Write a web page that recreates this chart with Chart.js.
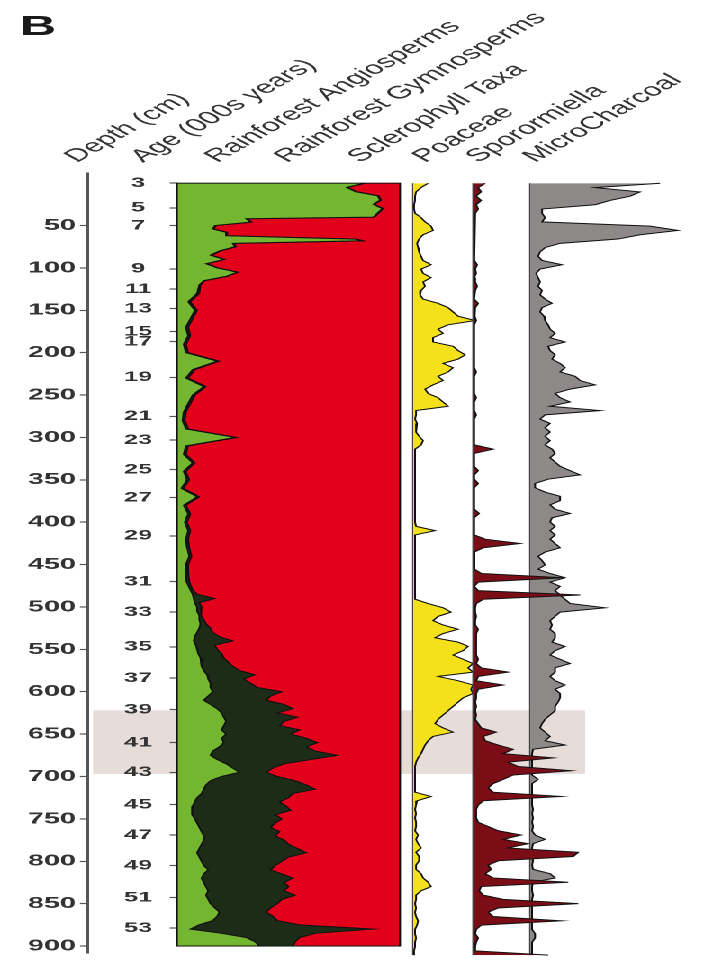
<!DOCTYPE html>
<html>
<head>
<meta charset="utf-8">
<title>Pollen diagram B</title>
<script src="https://cdn.jsdelivr.net/npm/chart.js@4.4.1/dist/chart.umd.min.js"></script>
<style>
    html, body { margin: 0; padding: 0; background: #fff; }
    /* the figure is drawn narrow and stretched sideways, like the original plate */
    #figure { position: absolute; left: 0; top: 0; width: 391px; height: 971px; transform: scaleX(1.8005); transform-origin: 0 0; }
    #figure canvas { position: absolute; left: 0; top: 0; }
</style>
</head>
<body>
<div id="figure">
    <canvas id="main" width="391" height="971"></canvas>
    <canvas id="poaceae" width="391" height="971"></canvas>
    <canvas id="charcoal" width="391" height="971"></canvas>
    <canvas id="sporormiella" width="391" height="971"></canvas>
</div>
<script>
// Column titles
const columnTitles = ['Depth (cm)', 'Age (000s years)', 'Rainforest Angiosperms', 'Rainforest Gymnosperms',
    'Sclerophyll Taxa', 'Poaceae', 'Sporormiella', 'MicroCharcoal'];

// Depth axis (cm) and age axis (000s years) tick labels
const depthTicks = [50, 100, 150, 200, 250, 300, 350, 400, 450, 500, 550, 600, 650, 700, 750, 800, 850, 900];
const ageLabels = ['3', '5', '7', '9', '11', '13', '15', '17', '19', '21', '23', '25', '27', '29', '31', '33',
    '35', '37', '39', '41', '43', '45', '47', '49', '51', '53'];
const ageDepths = [0, 29, 50, 101, 125, 148, 175, 187, 229, 275, 303, 338, 371, 416, 470, 506,
    547, 584, 621, 660, 695, 733, 769, 805, 843, 879];

// Shaded interval (cm)
const shadedDepths = [622, 697];

// Pollen sum panel (%), sampled at these depths
const mainDepths = [
    0, 5, 10, 15, 20, 25, 30, 35, 40,
    42, 46, 50, 54, 58, 62, 66, 68, 71, 75,
    80, 85, 90, 95, 100, 105, 110, 115, 120,
    130, 140, 150, 160, 170, 180, 190, 200, 210, 220, 230, 240, 250, 260, 270, 280, 290, 300, 310, 320,
    330, 340, 350, 360, 370, 380, 390, 400, 410, 420, 430, 440, 450, 460, 470, 480,
    485, 490, 495, 500, 505, 510, 515, 520, 525, 530, 535, 540, 545, 550, 555, 560, 565, 570, 575, 580, 585, 590, 595,
    600, 605, 610, 615, 620, 625, 630, 635, 640, 645, 650, 655, 660, 665, 670, 675, 680, 685, 690, 695,
    700, 705, 710, 715, 720, 725, 730, 735, 740, 745, 750, 755, 760, 765, 770, 775, 780, 785, 790, 795,
    800, 805, 810, 815, 820, 825, 830, 835, 840, 845, 850, 855, 860, 865, 870, 875, 880, 885, 890, 895,
    900
];
const angiosperms = [
    84, 76, 80, 90, 91, 88, 92, 90, 88,
    31, 33, 17, 16, 22, 22, 80, 83, 25, 26,
    19, 15, 21, 13, 18, 27, 22, 12, 10,
    9, 5, 8, 6, 4, 5, 3, 4, 18, 7, 4, 12, 7, 5, 3, 2.5, 4, 26, 4, 3,
    7, 3, 4.5, 2, 9, 3, 5, 3.5, 5, 4, 4.5, 5.5, 4, 4, 4.5, 6,
    7, 7.5, 8, 9, 9, 10, 10, 10.5, 10, 9, 8, 7.5, 8.5, 9, 9.5, 10.5, 11, 11, 12, 13.5, 14, 15, 15,
    16, 14, 12, 15, 18, 20, 21, 22, 21, 20, 22, 20, 21, 19, 16, 15, 18, 22, 25, 28,
    20, 15, 13, 12, 11, 9, 8, 7, 6.5, 7, 8, 9, 10, 11, 12, 12, 11, 10, 9, 10,
    11, 12, 14, 12, 11, 12, 13, 14, 13, 14, 15, 17, 19, 18, 16, 10, 6, 20, 31, 35,
    37
];
const gymnosperms = [
    0.5, 0.5, 0.5, 0.5, 0.5, 0.5, 0.5, 0.5, 0.5,
    0.5, 0.5, 0.5, 0.5, 0.5, 0.5, 0.5, 0.5, 0.5, 0.5,
    0.5, 0.5, 0.5, 0.5, 0.5, 0.5, 0.5, 0.5, 0.5,
    1, 1, 1, 1, 1, 1, 1, 1, 1, 1, 1, 1, 1, 1, 1, 1, 1, 1, 1, 1,
    1, 1, 1, 1, 1, 1, 1, 1, 1, 1, 1, 1, 1, 1, 1, 1,
    2, 9.5, 2, 2, 1.5, 1, 2, 2.5, 5, 7, 11, 17.5, 8.5, 9, 10.5, 10.5, 12, 14, 16, 21.5, 16, 18, 21,
    31, 28, 28, 33, 34, 25, 33, 26, 25, 35, 29, 38, 42, 39, 46, 57, 42, 26, 18, 12,
    25, 38, 45, 50, 41, 41, 38, 42, 44.5, 37, 39, 35, 32, 35, 32, 36, 39, 44, 49, 40,
    36, 32, 28, 35, 41, 36, 37, 34, 40, 33, 30, 25, 21, 25, 29, 45, 82, 42, 24, 18,
    15
];
const sclerophyll = [
    15.5, 23.5, 19.5, 9.5, 8.5, 11.5, 7.5, 9.5, 11.5,
    68.5, 66.5, 82.5, 83.5, 77.5, 77.5, 19.5, 16.5, 74.5, 73.5,
    80.5, 84.5, 78.5, 86.5, 81.5, 72.5, 77.5, 87.5, 89.5,
    90, 94, 91, 93, 95, 94, 96, 95, 81, 92, 95, 87, 92, 94, 96, 96.5, 95, 73, 95, 96,
    92, 96, 94.5, 97, 90, 96, 94, 95.5, 94, 95, 94.5, 93.5, 95, 95, 94.5, 93,
    91, 83, 90, 89, 89.5, 89, 88, 87, 85, 84, 81, 75, 83, 82, 80, 79, 77, 75, 72, 65, 70, 67, 64,
    53, 58, 60, 52, 48, 55, 46, 52, 54, 45, 49, 42, 37, 42, 38, 28, 40, 52, 57, 60,
    55, 47, 42, 38, 48, 50, 54, 51, 49, 56, 53, 56, 58, 54, 56, 52, 50, 46, 42, 50,
    53, 56, 58, 53, 48, 52, 50, 52, 47, 53, 55, 58, 60, 57, 55, 45, 12, 38, 45, 47,
    48
];

// Single-taxon panels, one sample every 5 cm from 0 to 900 cm
const sampleDepths = Array.from({ length: 181 }, function (_, i) { return i * 5; });
const poaceae = [
    15, 8, 3, 2, 2, 1, 1, 2, 8, 12,
    18, 20, 10, 6, 4, 5, 6, 8, 10, 18,
    8, 10, 18, 10, 12, 8, 7, 10, 25, 35,
    40, 45, 62, 35, 25, 30, 20, 20, 40, 45,
    52, 45, 30, 40, 35, 25, 30, 20, 12, 15,
    25, 30, 35, 3, 3, 2, 4, 3, 3, 6,
    10, 8, 2, 2, 2, 2, 2, 2, 2, 2,
    2, 2, 2, 2, 2, 2, 2, 2, 2, 2,
    3, 22, 2, 2, 2, 2, 2, 2, 2, 2,
    2, 2, 2, 2, 2, 2, 2, 2, 15, 30,
    38, 25, 20, 30, 45, 30, 22, 45, 55, 50,
    40, 50, 60, 55, 60, 25, 45, 60, 58, 60,
    50, 45, 40, 35, 30, 25, 22, 30, 40, 20,
    15, 12, 10, 8, 5, 3, 2, 2, 2, 2,
    2, 2, 2, 18, 4, 3, 2, 3, 2, 3,
    3, 2, 5, 3, 5, 8, 3, 6, 6, 3,
    3, 8, 10, 15, 18, 8, 3, 3, 2, 3,
    2, 3, 5, 4, 2, 2, 3, 2, 2, 1,
    1
];
const sporormiella = [
    12, 5, 8, 3, 8, 3, 5, 2, 1, 1,
    1, 1, 1, 1, 1, 1, 1, 1, 2, 4,
    2, 3, 1, 2, 4, 2, 1, 1, 5, 2,
    2, 1, 3, 1, 1, 1, 1, 1, 1, 1,
    1, 1, 1, 1, 3, 1, 1, 1, 1, 1,
    3, 1, 1, 1, 3, 1, 1, 1, 1, 1,
    1, 1, 20, 1, 1, 1, 1, 5, 1, 1,
    5, 1, 1, 1, 1, 1, 1, 6, 1, 1,
    1, 1, 1, 12, 47, 10, 1, 1, 1, 1,
    2, 8, 90, 5, 1, 5, 107, 10, 3, 2,
    2, 3, 2, 2, 5, 3, 3, 3, 3, 3,
    3, 5, 3, 8, 35, 5, 3, 30, 5, 3,
    3, 2, 3, 2, 3, 2, 5, 8, 23, 10,
    12, 25, 40, 30, 80, 35, 45, 98, 40, 30,
    20, 15, 20, 88, 10, 5, 3, 3, 3, 5,
    15, 25, 48, 30, 55, 35, 105, 100, 25, 15,
    18, 12, 20, 95, 8, 6, 10, 30, 105, 25,
    15, 20, 88, 8, 3, 2, 5, 3, 2, 2,
    75
];
const microCharcoal = [
    130, 65, 110, 100, 80, 65, 12, 12, 15, 12,
    120, 148, 110, 88, 30, 15, 10, 8, 12, 32,
    10, 6, 8, 10, 8, 12, 10, 15, 22, 12,
    10, 14, 15, 18, 20, 25, 20, 35, 18, 20,
    25, 22, 30, 35, 30, 45, 50, 65, 40, 25,
    30, 40, 20, 70, 15, 10, 20, 15, 20, 15,
    20, 15, 22, 25, 20, 25, 30, 40, 50, 18,
    5, 5, 15, 30, 30, 20, 25, 40, 22, 20,
    25, 20, 25, 20, 25, 30, 15, 8, 12, 15,
    8, 20, 35, 20, 30, 25, 30, 35, 40, 75,
    30, 25, 20, 22, 20, 25, 25, 22, 35, 25,
    20, 30, 40, 25, 25, 20, 25, 35, 25, 30,
    30, 28, 25, 25, 20, 15, 12, 10, 15, 20,
    15, 35, 3, 2, 2, 2, 2, 2, 2, 8,
    2, 2, 2, 2, 2, 2, 3, 2, 3, 2,
    3, 2, 5, 15, 3, 2, 3, 2, 3, 2,
    3, 20, 25, 3, 2, 2, 3, 2, 2, 2,
    2, 2, 2, 2, 2, 5, 5, 2, 2, 2,
    2
];

(function () {
    'use strict';

    const FIG_W = 391;
    const FIG_H = 971;

    // Layout in unstretched pixels
    const plotTop = 173;        // top of depth axis line
    const plotBottom = 962;     // bottom of depth axis line
    const depthMin = -12;
    const depthMax = 908;
    const depthAxisX = 48.9;
    const panelLeft = 98.3;
    const panelRight = 222.2;
    const band = { left: 51.7, right: 325, color: '#e6ddd8' };
    const titleBaseline = 163;
    const titleX = [42.8, 79.4, 120.6, 159.4, 200, 236, 265.6, 297.2];

    const colors = {
        angio: '#74b62f',
        gymno: '#1d2c16',
        sclero: '#e2001b',
        poaceae: '#f4e11a',
        sporormiella: '#7b0d17',
        charcoal: '#8d8989',
        text: '#333333',
        axis: '#555555'
    };

    Chart.defaults.font.family = '"Liberation Sans", Arial, sans-serif';

    function areaSeries(label, depths, values, fillColor, fill) {
        return {
            label: label,
            data: depths.map(function (d, i) { return { x: values[i], y: d }; }),
            backgroundColor: fillColor,
            borderColor: '#111111',
            borderWidth: 1,
            pointRadius: 0,
            tension: 0,
            fill: fill
        };
    }

    function hiddenDepthScale() {
        return { type: 'linear', reverse: true, min: depthMin, max: depthMax, display: false };
    }

    // Shaded band, drawn behind everything
    const bandPlugin = {
        id: 'band',
        beforeDraw: function (chart) {
            const y = chart.scales.y;
            const y0 = y.getPixelForValue(shadedDepths[0]);
            const y1 = y.getPixelForValue(shadedDepths[1]);
            const ctx = chart.ctx;
            ctx.save();
            ctx.fillStyle = band.color;
            ctx.fillRect(band.left, y0, band.right - band.left, y1 - y0);
            ctx.restore();
        }
    };

    // Frame round the pollen sum panel
    const framePlugin = {
        id: 'frame',
        afterDatasetsDraw: function (chart) {
            const x = chart.scales.x;
            const y = chart.scales.y;
            const ctx = chart.ctx;
            ctx.save();
            ctx.strokeStyle = '#111111';
            ctx.lineWidth = 1;
            ctx.strokeRect(x.getPixelForValue(0), y.getPixelForValue(0),
                x.getPixelForValue(100) - x.getPixelForValue(0),
                y.getPixelForValue(mainDepths[mainDepths.length - 1]) - y.getPixelForValue(0));
            ctx.restore();
        }
    };

    // Rotated column titles and panel letter
    const titlePlugin = {
        id: 'titles',
        afterDraw: function (chart) {
            const ctx = chart.ctx;
            ctx.save();
            ctx.fillStyle = '#1a1a1a';
            ctx.font = 'bold 28px "Liberation Sans", Arial, sans-serif';
            ctx.textBaseline = 'alphabetic';
            ctx.fillText('B', 11, 35);
            ctx.fillStyle = colors.text;
            ctx.font = '18px "Liberation Sans", Arial, sans-serif';
            columnTitles.forEach(function (title, i) {
                ctx.save();
                ctx.translate(titleX[i], titleBaseline);
                ctx.rotate(-Math.PI / 4);
                ctx.fillText(title, 0, 0);
                ctx.restore();
            });
            ctx.restore();
        }
    };

    // Zero line of a single-taxon panel
    const baselinePlugin = {
        id: 'baseline',
        beforeDatasetsDraw: function (chart) {
            const x = chart.scales.x.getPixelForValue(0);
            const y = chart.scales.y;
            const ctx = chart.ctx;
            ctx.save();
            ctx.strokeStyle = '#444444';
            ctx.lineWidth = 1;
            ctx.beginPath();
            ctx.moveTo(x, y.getPixelForValue(0));
            ctx.lineTo(x, y.getPixelForValue(sampleDepths[sampleDepths.length - 1]));
            ctx.stroke();
            ctx.restore();
        }
    };

    // Stacked percentage panel with depth and age axes
    new Chart(document.getElementById('main'), {
        type: 'line',
        data: {
            datasets: [
                areaSeries(columnTitles[2], mainDepths, angiosperms, colors.angio, 'origin'),
                areaSeries(columnTitles[3], mainDepths, gymnosperms, colors.gymno, '-1'),
                areaSeries(columnTitles[4], mainDepths, sclerophyll, colors.sclero, '-1')
            ]
        },
        options: {
            responsive: false,
            animation: false,
            devicePixelRatio: 2,
            indexAxis: 'y',
            layout: { padding: { left: 0, right: FIG_W - panelRight, top: plotTop, bottom: FIG_H - plotBottom } },
            plugins: { legend: { display: false }, tooltip: { enabled: false } },
            scales: {
                x: { type: 'linear', min: 0, max: 100, stacked: true, display: false },
                y: {
                    type: 'linear',
                    position: 'left',
                    reverse: true,
                    min: depthMin,
                    max: depthMax,
                    weight: 1,
                    afterFit: function (scale) { scale.width = depthAxisX; },
                    afterBuildTicks: function (scale) {
                        scale.ticks = depthTicks.map(function (v) { return { value: v }; });
                    },
                    ticks: {
                        autoSkip: false,
                        padding: 2.2,
                        color: colors.text,
                        font: { size: 16, weight: 'bold' }
                    },
                    grid: { drawOnChartArea: false, drawTicks: true, tickLength: 4.5, tickColor: colors.axis, tickWidth: 1.2 },
                    border: { display: true, color: colors.axis, width: 1.5 }
                },
                age: {
                    axis: 'y',
                    type: 'linear',
                    position: 'left',
                    reverse: true,
                    min: depthMin,
                    max: depthMax,
                    weight: 0,
                    afterFit: function (scale) { scale.width = panelLeft - depthAxisX; },
                    afterBuildTicks: function (scale) {
                        scale.ticks = ageDepths.map(function (v) { return { value: v }; });
                    },
                    ticks: {
                        autoSkip: false,
                        crossAlign: 'center',
                        padding: 9.8,
                        color: colors.text,
                        font: { size: 14, weight: 'bold' },
                        callback: function (value, index) { return ageLabels[index]; }
                    },
                    grid: { drawOnChartArea: false, drawTicks: true, tickLength: 4, tickColor: colors.axis, tickWidth: 1.2 },
                    border: { display: false }
                }
            }
        },
        plugins: [bandPlugin, framePlugin, titlePlugin]
    });

    // Single-taxon panels: left edge, width and x range (unstretched pixels)
    const panels = [
        { id: 'poaceae', title: columnTitles[5], values: poaceae, color: colors.poaceae, left: 229.4, width: 38.9, max: 70 },
        { id: 'charcoal', title: columnTitles[7], values: microCharcoal, color: colors.charcoal, left: 294.4, width: 88.9, max: 160 },
        { id: 'sporormiella', title: columnTitles[6], values: sporormiella, color: colors.sporormiella, left: 262.8, width: 66.7, max: 120 }
    ];

    panels.forEach(function (panel) {
        new Chart(document.getElementById(panel.id), {
            type: 'line',
            data: {
                datasets: [areaSeries(panel.title, sampleDepths, panel.values, panel.color, 'origin')]
            },
            options: {
                responsive: false,
                animation: false,
                devicePixelRatio: 2,
                indexAxis: 'y',
                layout: {
                    padding: {
                        left: panel.left,
                        right: FIG_W - panel.left - panel.width,
                        top: plotTop,
                        bottom: FIG_H - plotBottom
                    }
                },
                plugins: { legend: { display: false }, tooltip: { enabled: false } },
                scales: {
                    x: { type: 'linear', min: 0, max: panel.max, display: false },
                    y: hiddenDepthScale()
                }
            },
            plugins: [baselinePlugin]
        });
    });
})();
</script>
</body>
</html>
